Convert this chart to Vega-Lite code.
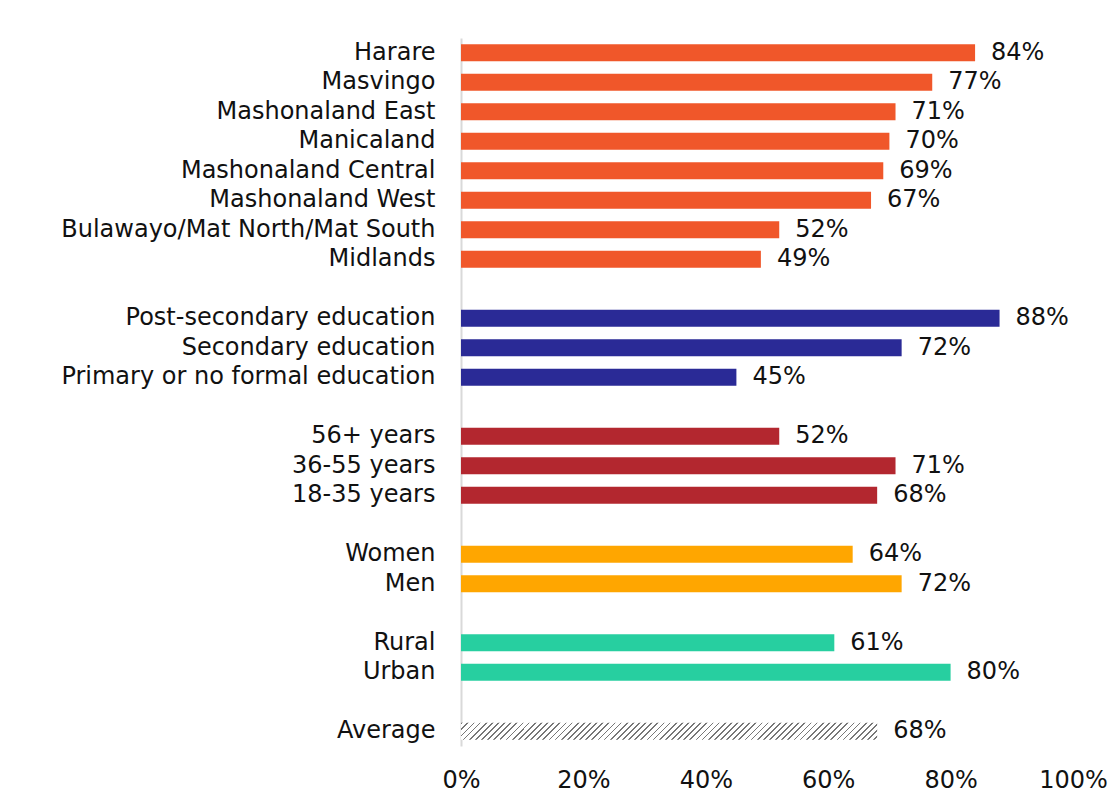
{
  "$schema": "https://vega.github.io/schema/vega-lite/v6.json",
  "autosize": "none",
  "padding": {"left": 461, "top": 38, "right": 47, "bottom": 59},
  "width": 612,
  "height": 708,
  "background": "white",
  "config": {
    "font": "DejaVu Sans",
    "view": {"stroke": null},
    "axis": {"labelFont": "DejaVu Sans", "labelFontSize": 24, "labelColor": "#111111", "grid": false, "ticks": false, "title": null, "labelLimit": 0}
  },
  "data": {
    "values": [
      {"label": "Harare", "group": "Region", "value": 0.84},
      {"label": "Masvingo", "group": "Region", "value": 0.77},
      {"label": "Mashonaland East", "group": "Region", "value": 0.71},
      {"label": "Manicaland", "group": "Region", "value": 0.70},
      {"label": "Mashonaland Central", "group": "Region", "value": 0.69},
      {"label": "Mashonaland West", "group": "Region", "value": 0.67},
      {"label": "Bulawayo/Mat North/Mat South", "group": "Region", "value": 0.52},
      {"label": "Midlands", "group": "Region", "value": 0.49},
      {"label": "Post-secondary education", "group": "Education", "value": 0.88},
      {"label": "Secondary education", "group": "Education", "value": 0.72},
      {"label": "Primary or no formal education", "group": "Education", "value": 0.45},
      {"label": "56+ years", "group": "Age", "value": 0.52},
      {"label": "36-55 years", "group": "Age", "value": 0.71},
      {"label": "18-35 years", "group": "Age", "value": 0.68},
      {"label": "Women", "group": "Gender", "value": 0.64},
      {"label": "Men", "group": "Gender", "value": 0.72},
      {"label": "Rural", "group": "Location", "value": 0.61},
      {"label": "Urban", "group": "Location", "value": 0.80},
      {"label": "Average", "group": "Average", "value": 0.68}
    ]
  },
  "encoding": {
    "y": {
      "field": "label",
      "type": "nominal",
      "sort": null,
      "scale": {
        "domain": ["Harare", "Masvingo", "Mashonaland East", "Manicaland", "Mashonaland Central", "Mashonaland West", "Bulawayo/Mat North/Mat South", "Midlands", "gap1", "Post-secondary education", "Secondary education", "Primary or no formal education", "gap2", "56+ years", "36-55 years", "18-35 years", "gap3", "Women", "Men", "gap4", "Rural", "Urban", "gap5", "Average"],
        "paddingInner": 0.43,
        "paddingOuter": 0.215
      },
      "axis": {
        "labelExpr": "indexof(datum.value, 'gap') == 0 ? '' : datum.value",
        "labelPadding": 26,
        "domain": true,
        "domainColor": "#d9d9d9",
        "domainWidth": 2
      }
    },
    "x": {
      "field": "value",
      "type": "quantitative",
      "scale": {"domain": [0, 1], "nice": false},
      "axis": {"format": ".0%", "values": [0, 0.2, 0.4, 0.6, 0.8, 1], "domain": false, "labelPadding": 22, "labelFlush": false}
    }
  },
  "layer": [
    {
      "transform": [{"filter": "datum.group != 'Average'"}],
      "mark": {"type": "bar"},
      "encoding": {
        "color": {
          "field": "group",
          "type": "nominal",
          "scale": {"domain": ["Region", "Education", "Age", "Gender", "Location"], "range": ["#F0572A", "#2A2A96", "#B3272F", "#FFA600", "#27CFA0"]},
          "legend": null
        }
      }
    },
    {
      "transform": [{"filter": "datum.group == 'Average'"}],
      "mark": {
        "type": "bar",
        "fill": {
          "gradient": "linear", "x1": 0, "y1": 0, "x2": 1.05, "y2": 0.0424,
          "stops": [
{"offset":0,"color":"#777"},{"offset":0.004,"color":"#777"},{"offset":0.004,"color":"#fff"},{"offset":0.014,"color":"#fff"},
{"offset":0.014,"color":"#777"},{"offset":0.018,"color":"#777"},{"offset":0.018,"color":"#fff"},{"offset":0.028,"color":"#fff"},
{"offset":0.028,"color":"#777"},{"offset":0.032,"color":"#777"},{"offset":0.032,"color":"#fff"},{"offset":0.042,"color":"#fff"},
{"offset":0.042,"color":"#777"},{"offset":0.046,"color":"#777"},{"offset":0.046,"color":"#fff"},{"offset":0.056,"color":"#fff"},
{"offset":0.056,"color":"#777"},{"offset":0.06,"color":"#777"},{"offset":0.06,"color":"#fff"},{"offset":0.07,"color":"#fff"},
{"offset":0.07,"color":"#777"},{"offset":0.074,"color":"#777"},{"offset":0.074,"color":"#fff"},{"offset":0.084,"color":"#fff"},
{"offset":0.084,"color":"#777"},{"offset":0.088,"color":"#777"},{"offset":0.088,"color":"#fff"},{"offset":0.098,"color":"#fff"},
{"offset":0.098,"color":"#777"},{"offset":0.102,"color":"#777"},{"offset":0.102,"color":"#fff"},{"offset":0.112,"color":"#fff"},
{"offset":0.112,"color":"#777"},{"offset":0.116,"color":"#777"},{"offset":0.116,"color":"#fff"},{"offset":0.126,"color":"#fff"},
{"offset":0.126,"color":"#777"},{"offset":0.13,"color":"#777"},{"offset":0.13,"color":"#fff"},{"offset":0.14,"color":"#fff"},
{"offset":0.14,"color":"#777"},{"offset":0.144,"color":"#777"},{"offset":0.144,"color":"#fff"},{"offset":0.154,"color":"#fff"},
{"offset":0.154,"color":"#777"},{"offset":0.158,"color":"#777"},{"offset":0.158,"color":"#fff"},{"offset":0.168,"color":"#fff"},
{"offset":0.168,"color":"#777"},{"offset":0.172,"color":"#777"},{"offset":0.172,"color":"#fff"},{"offset":0.182,"color":"#fff"},
{"offset":0.182,"color":"#777"},{"offset":0.186,"color":"#777"},{"offset":0.186,"color":"#fff"},{"offset":0.196,"color":"#fff"},
{"offset":0.196,"color":"#777"},{"offset":0.2,"color":"#777"},{"offset":0.2,"color":"#fff"},{"offset":0.21,"color":"#fff"},
{"offset":0.21,"color":"#777"},{"offset":0.214,"color":"#777"},{"offset":0.214,"color":"#fff"},{"offset":0.224,"color":"#fff"},
{"offset":0.224,"color":"#777"},{"offset":0.228,"color":"#777"},{"offset":0.228,"color":"#fff"},{"offset":0.238,"color":"#fff"},
{"offset":0.238,"color":"#777"},{"offset":0.242,"color":"#777"},{"offset":0.242,"color":"#fff"},{"offset":0.252,"color":"#fff"},
{"offset":0.252,"color":"#777"},{"offset":0.256,"color":"#777"},{"offset":0.256,"color":"#fff"},{"offset":0.266,"color":"#fff"},
{"offset":0.266,"color":"#777"},{"offset":0.27,"color":"#777"},{"offset":0.27,"color":"#fff"},{"offset":0.28,"color":"#fff"},
{"offset":0.28,"color":"#777"},{"offset":0.284,"color":"#777"},{"offset":0.284,"color":"#fff"},{"offset":0.294,"color":"#fff"},
{"offset":0.294,"color":"#777"},{"offset":0.298,"color":"#777"},{"offset":0.298,"color":"#fff"},{"offset":0.308,"color":"#fff"},
{"offset":0.308,"color":"#777"},{"offset":0.312,"color":"#777"},{"offset":0.312,"color":"#fff"},{"offset":0.322,"color":"#fff"},
{"offset":0.322,"color":"#777"},{"offset":0.326,"color":"#777"},{"offset":0.326,"color":"#fff"},{"offset":0.336,"color":"#fff"},
{"offset":0.336,"color":"#777"},{"offset":0.34,"color":"#777"},{"offset":0.34,"color":"#fff"},{"offset":0.35,"color":"#fff"},
{"offset":0.35,"color":"#777"},{"offset":0.354,"color":"#777"},{"offset":0.354,"color":"#fff"},{"offset":0.364,"color":"#fff"},
{"offset":0.364,"color":"#777"},{"offset":0.368,"color":"#777"},{"offset":0.368,"color":"#fff"},{"offset":0.378,"color":"#fff"},
{"offset":0.378,"color":"#777"},{"offset":0.382,"color":"#777"},{"offset":0.382,"color":"#fff"},{"offset":0.392,"color":"#fff"},
{"offset":0.392,"color":"#777"},{"offset":0.396,"color":"#777"},{"offset":0.396,"color":"#fff"},{"offset":0.406,"color":"#fff"},
{"offset":0.406,"color":"#777"},{"offset":0.41,"color":"#777"},{"offset":0.41,"color":"#fff"},{"offset":0.42,"color":"#fff"},
{"offset":0.42,"color":"#777"},{"offset":0.424,"color":"#777"},{"offset":0.424,"color":"#fff"},{"offset":0.434,"color":"#fff"},
{"offset":0.434,"color":"#777"},{"offset":0.438,"color":"#777"},{"offset":0.438,"color":"#fff"},{"offset":0.448,"color":"#fff"},
{"offset":0.448,"color":"#777"},{"offset":0.452,"color":"#777"},{"offset":0.452,"color":"#fff"},{"offset":0.462,"color":"#fff"},
{"offset":0.462,"color":"#777"},{"offset":0.466,"color":"#777"},{"offset":0.466,"color":"#fff"},{"offset":0.476,"color":"#fff"},
{"offset":0.476,"color":"#777"},{"offset":0.48,"color":"#777"},{"offset":0.48,"color":"#fff"},{"offset":0.49,"color":"#fff"},
{"offset":0.49,"color":"#777"},{"offset":0.494,"color":"#777"},{"offset":0.494,"color":"#fff"},{"offset":0.504,"color":"#fff"},
{"offset":0.504,"color":"#777"},{"offset":0.508,"color":"#777"},{"offset":0.508,"color":"#fff"},{"offset":0.518,"color":"#fff"},
{"offset":0.518,"color":"#777"},{"offset":0.522,"color":"#777"},{"offset":0.522,"color":"#fff"},{"offset":0.532,"color":"#fff"},
{"offset":0.532,"color":"#777"},{"offset":0.536,"color":"#777"},{"offset":0.536,"color":"#fff"},{"offset":0.546,"color":"#fff"},
{"offset":0.546,"color":"#777"},{"offset":0.55,"color":"#777"},{"offset":0.55,"color":"#fff"},{"offset":0.56,"color":"#fff"},
{"offset":0.56,"color":"#777"},{"offset":0.564,"color":"#777"},{"offset":0.564,"color":"#fff"},{"offset":0.574,"color":"#fff"},
{"offset":0.574,"color":"#777"},{"offset":0.578,"color":"#777"},{"offset":0.578,"color":"#fff"},{"offset":0.588,"color":"#fff"},
{"offset":0.588,"color":"#777"},{"offset":0.592,"color":"#777"},{"offset":0.592,"color":"#fff"},{"offset":0.602,"color":"#fff"},
{"offset":0.602,"color":"#777"},{"offset":0.606,"color":"#777"},{"offset":0.606,"color":"#fff"},{"offset":0.616,"color":"#fff"},
{"offset":0.616,"color":"#777"},{"offset":0.62,"color":"#777"},{"offset":0.62,"color":"#fff"},{"offset":0.63,"color":"#fff"},
{"offset":0.63,"color":"#777"},{"offset":0.634,"color":"#777"},{"offset":0.634,"color":"#fff"},{"offset":0.644,"color":"#fff"},
{"offset":0.644,"color":"#777"},{"offset":0.648,"color":"#777"},{"offset":0.648,"color":"#fff"},{"offset":0.658,"color":"#fff"},
{"offset":0.658,"color":"#777"},{"offset":0.662,"color":"#777"},{"offset":0.662,"color":"#fff"},{"offset":0.672,"color":"#fff"},
{"offset":0.672,"color":"#777"},{"offset":0.676,"color":"#777"},{"offset":0.676,"color":"#fff"},{"offset":0.686,"color":"#fff"},
{"offset":0.686,"color":"#777"},{"offset":0.69,"color":"#777"},{"offset":0.69,"color":"#fff"},{"offset":0.7,"color":"#fff"},
{"offset":0.7,"color":"#777"},{"offset":0.704,"color":"#777"},{"offset":0.704,"color":"#fff"},{"offset":0.714,"color":"#fff"},
{"offset":0.714,"color":"#777"},{"offset":0.718,"color":"#777"},{"offset":0.718,"color":"#fff"},{"offset":0.728,"color":"#fff"},
{"offset":0.728,"color":"#777"},{"offset":0.732,"color":"#777"},{"offset":0.732,"color":"#fff"},{"offset":0.742,"color":"#fff"},
{"offset":0.742,"color":"#777"},{"offset":0.746,"color":"#777"},{"offset":0.746,"color":"#fff"},{"offset":0.756,"color":"#fff"},
{"offset":0.756,"color":"#777"},{"offset":0.76,"color":"#777"},{"offset":0.76,"color":"#fff"},{"offset":0.77,"color":"#fff"},
{"offset":0.77,"color":"#777"},{"offset":0.774,"color":"#777"},{"offset":0.774,"color":"#fff"},{"offset":0.784,"color":"#fff"},
{"offset":0.784,"color":"#777"},{"offset":0.788,"color":"#777"},{"offset":0.788,"color":"#fff"},{"offset":0.798,"color":"#fff"},
{"offset":0.798,"color":"#777"},{"offset":0.802,"color":"#777"},{"offset":0.802,"color":"#fff"},{"offset":0.812,"color":"#fff"},
{"offset":0.812,"color":"#777"},{"offset":0.816,"color":"#777"},{"offset":0.816,"color":"#fff"},{"offset":0.826,"color":"#fff"},
{"offset":0.826,"color":"#777"},{"offset":0.83,"color":"#777"},{"offset":0.83,"color":"#fff"},{"offset":0.84,"color":"#fff"},
{"offset":0.84,"color":"#777"},{"offset":0.844,"color":"#777"},{"offset":0.844,"color":"#fff"},{"offset":0.854,"color":"#fff"},
{"offset":0.854,"color":"#777"},{"offset":0.858,"color":"#777"},{"offset":0.858,"color":"#fff"},{"offset":0.868,"color":"#fff"},
{"offset":0.868,"color":"#777"},{"offset":0.872,"color":"#777"},{"offset":0.872,"color":"#fff"},{"offset":0.882,"color":"#fff"},
{"offset":0.882,"color":"#777"},{"offset":0.886,"color":"#777"},{"offset":0.886,"color":"#fff"},{"offset":0.896,"color":"#fff"},
{"offset":0.896,"color":"#777"},{"offset":0.9,"color":"#777"},{"offset":0.9,"color":"#fff"},{"offset":0.91,"color":"#fff"},
{"offset":0.91,"color":"#777"},{"offset":0.914,"color":"#777"},{"offset":0.914,"color":"#fff"},{"offset":0.924,"color":"#fff"},
{"offset":0.924,"color":"#777"},{"offset":0.928,"color":"#777"},{"offset":0.928,"color":"#fff"},{"offset":0.938,"color":"#fff"},
{"offset":0.938,"color":"#777"},{"offset":0.942,"color":"#777"},{"offset":0.942,"color":"#fff"},{"offset":0.952,"color":"#fff"},
{"offset":0.952,"color":"#777"},{"offset":0.956,"color":"#777"},{"offset":0.956,"color":"#fff"},{"offset":0.966,"color":"#fff"},
{"offset":0.966,"color":"#777"},{"offset":0.97,"color":"#777"},{"offset":0.97,"color":"#fff"},{"offset":0.98,"color":"#fff"},
{"offset":0.98,"color":"#777"},{"offset":0.984,"color":"#777"},{"offset":0.984,"color":"#fff"},{"offset":0.994,"color":"#fff"},
{"offset":0.994,"color":"#777"},{"offset":0.998,"color":"#777"},{"offset":0.998,"color":"#fff"},{"offset":1,"color":"#fff"}
          ]
        }
      }
    },
    {
      "mark": {"type": "text", "align": "left", "baseline": "middle", "dx": 16, "fontSize": 24, "font": "DejaVu Sans", "color": "#111111"},
      "encoding": {
        "text": {"field": "value", "type": "quantitative", "format": ".0%"}
      }
    }
  ]
}
